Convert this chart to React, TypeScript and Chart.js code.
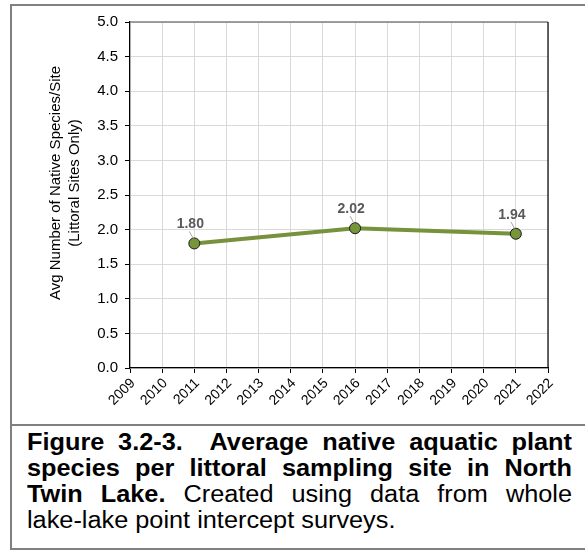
import React, { useEffect, useRef } from 'react';
import { Chart, registerables } from 'chart.js';

Chart.register(...registerables);

// ---- data ----
const surveyYears = [2011, 2016, 2021];
const avgNativeSpecies = [1.8, 2.02, 1.94];
const xRange = [2009, 2022];
const yRange = [0, 5];
const yStep = 0.5;
const yTitleLines = ['Avg Number of Native Species/Site', '(Littoral Sites Only)'];
const captionLines = [
  { bold: 'Figure 3.2-3.\u00a0 Average native aquatic plant', normal: '' },
  { bold: 'species per littoral sampling site in North', normal: '' },
  { bold: 'Twin Lake.', normal: ' Created using data from whole' },
  { bold: '', normal: 'lake-lake point intercept surveys.' },
];

const FONT = '"Liberation Sans", Arial, sans-serif';
const CAPTION_STRETCH = 1.1;

const plotFramePlugin = {
  id: 'plotFrame',
  beforeDatasetsDraw(chart: any) {
    const { ctx, chartArea: a } = chart;
    ctx.save();
    ctx.lineWidth = 1.5;
    ctx.strokeStyle = '#808080';
    ctx.beginPath();
    ctx.moveTo(a.left, a.top);
    ctx.lineTo(a.right, a.top);
    ctx.stroke();
    ctx.lineWidth = 1.2;
    ctx.strokeStyle = '#000';
    ctx.beginPath();
    ctx.moveTo(a.right, a.top);
    ctx.lineTo(a.right, a.bottom);
    ctx.stroke();
    ctx.restore();
  },
};

const yTitlePlugin = {
  id: 'yTitleLines',
  afterDraw(chart: any) {
    const { ctx, chartArea: a } = chart;
    ctx.save();
    ctx.translate(65, (a.top + a.bottom) / 2 - 12);
    ctx.rotate(-Math.PI / 2);
    ctx.font = `15px ${FONT}`;
    ctx.fillStyle = '#000';
    ctx.textAlign = 'center';
    ctx.textBaseline = 'middle';
    yTitleLines.forEach((t, i) => ctx.fillText(t, 0, (i - (yTitleLines.length - 1) / 2) * 19));
    ctx.restore();
  },
};

const dataLabelPlugin = {
  id: 'dataLabels',
  afterDatasetsDraw(chart: any) {
    const { ctx } = chart;
    const meta = chart.getDatasetMeta(0);
    ctx.save();
    meta.data.forEach((pt: any, i: number) => {
      const x = pt.x;
      const y = pt.y;
      const lx = x - 4;
      const ly = y - 19;
      ctx.strokeStyle = '#a6a6a6';
      ctx.lineWidth = 1;
      ctx.beginPath();
      ctx.moveTo(lx - 1, ly + 7);
      ctx.lineTo(x - 1, y - 5);
      ctx.stroke();
      ctx.font = `bold 14px ${FONT}`;
      ctx.fillStyle = '#595959';
      ctx.textAlign = 'center';
      ctx.textBaseline = 'middle';
      ctx.fillText(avgNativeSpecies[i].toFixed(2), lx, ly);
    });
    ctx.restore();
  },
};

function App() {
  const ref = useRef<HTMLCanvasElement | null>(null);

  useEffect(() => {
    if (!ref.current) return;
    const chart = new Chart(ref.current, {
      type: 'line',
      data: {
        datasets: [
          {
            data: surveyYears.map((yr, i) => ({ x: yr, y: avgNativeSpecies[i] })),
            borderColor: '#76923C',
            borderWidth: 4,
            pointRadius: 5.5,
            pointHoverRadius: 5.5,
            pointBackgroundColor: '#77963A',
            pointBorderColor: '#1a1a1a',
            pointBorderWidth: 1,
            tension: 0,
          },
        ],
      },
      options: {
        responsive: false,
        animation: false,
        devicePixelRatio: 1,
        layout: { padding: { left: 0, top: 22, right: 37, bottom: 0 } },
        plugins: { legend: { display: false }, tooltip: { enabled: false } },
        scales: {
          x: {
            type: 'linear',
            min: xRange[0],
            max: xRange[1],
            afterFit: (s: any) => {
              s.height = 56;
            },
            ticks: {
              stepSize: 1,
              minRotation: 45,
              maxRotation: 45,
              padding: 2,
              labelOffset: 3,
              color: '#000',
              font: { family: FONT, size: 14 },
              callback: (v: any) => String(v),
            },
            grid: { color: '#d9d9d9', lineWidth: 1, tickLength: 5, tickColor: '#000' },
            border: { color: '#000', width: 1.2 },
          },
          y: {
            min: yRange[0],
            max: yRange[1],
            afterFit: (s: any) => {
              s.width = 130;
            },
            ticks: {
              stepSize: yStep,
              padding: 7,
              color: '#000',
              font: { family: FONT, size: 15 },
              callback: (v: any) => Number(v).toFixed(1),
            },
            grid: { color: '#d9d9d9', lineWidth: 1, tickLength: 5, tickColor: '#000' },
            border: { color: '#000', width: 1.2 },
          },
        },
      },
      plugins: [plotFramePlugin, yTitlePlugin, dataLabelPlugin],
    });
    return () => chart.destroy();
  }, []);

  return (
    <div
      style={{
        position: 'fixed',
        left: 0,
        top: 0,
        width: 585,
        height: 550,
        overflow: 'hidden',
        background: '#fff',
      }}
    >
      <div
        style={{
          position: 'absolute',
          left: 10,
          top: 4,
          width: 620,
          height: 546,
          border: '2px solid #808080',
          boxSizing: 'border-box',
        }}
      />
      <div
        style={{
          position: 'absolute',
          left: 10,
          top: 424,
          width: 620,
          height: 2,
          background: '#808080',
        }}
      />
      <canvas
        ref={ref}
        width={585}
        height={424}
        style={{ position: 'absolute', left: 0, top: 0, width: 585, height: 424 }}
      />
      <div
        style={{
          position: 'absolute',
          left: 27,
          top: 429,
          width: 545 / CAPTION_STRETCH,
          transform: `scaleX(${CAPTION_STRETCH})`,
          transformOrigin: 'left top',
          fontFamily: FONT,
          fontSize: 23,
          lineHeight: '26px',
          color: '#000',
        }}
      >
        {captionLines.map((ln, i) => (
          <div
            key={i}
            style={{
              textAlign: 'justify',
              textAlignLast: i < captionLines.length - 1 ? 'justify' : 'left',
            }}
          >
            {ln.bold ? <b>{ln.bold}</b> : null}
            {ln.normal}
          </div>
        ))}
      </div>
    </div>
  );
}

export default App;
